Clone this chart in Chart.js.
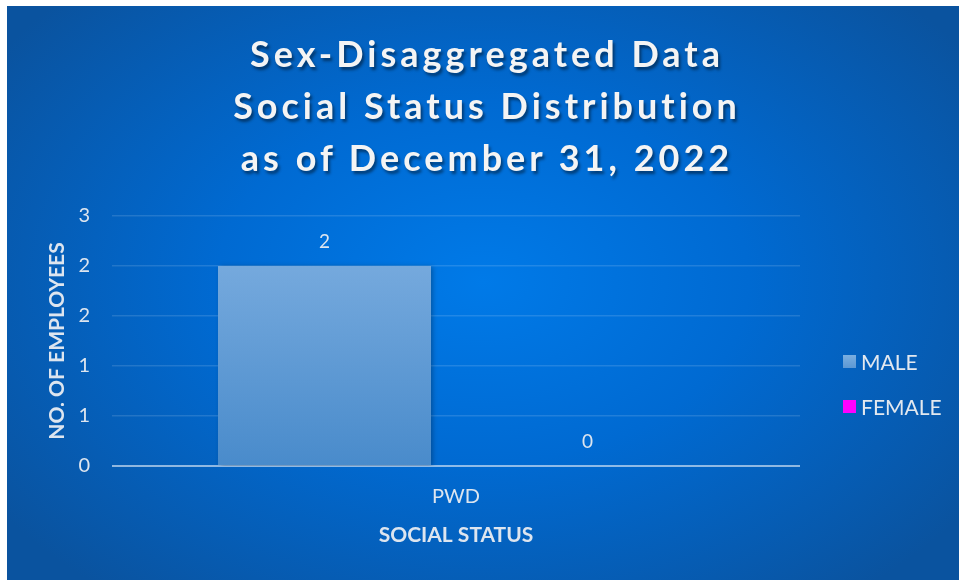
<!DOCTYPE html>
<html>
<head>
<meta charset="utf-8">
<script src="https://cdn.jsdelivr.net/npm/chart.js@4.4.1/dist/chart.umd.min.js"></script>
<style>
  html, body { margin: 0; padding: 0; background: #ffffff; }
  body { width: 959px; height: 580px; position: relative; overflow: hidden; font-family: 'Lato', sans-serif; }
  #panel {
    position: absolute; left: 7px; top: 6px; width: 952px; height: 574px;
    background: radial-gradient(ellipse 62% 70% at 50% 48%, #007ae8 0%, #006ad2 45%, #0a539f 100%);
  }
  #title {
    position: absolute; left: 4px; top: 21px; width: 952px; text-align: center;
    color: #f4f4f4; font-weight: 700; font-size: 36px; line-height: 52px; letter-spacing: 4px;
    text-shadow: 2px 3px 3px rgba(0, 0, 0, 0.45);
  }
  #legend { position: absolute; left: 836px; top: 343px; }
  .item { display: flex; align-items: center; height: 24px; margin-bottom: 21px; color: #e2e8ef; font-size: 21px; }
  .swatch { width: 13px; height: 13px; margin-right: 5px; }
  #wrap { position: absolute; left: 0; top: 0; width: 952px; height: 574px; }
</style>
</head>
<body>
<div id="panel">
  <div id="wrap"><canvas id="myChart"></canvas></div>
  <div id="title"></div>
  <div id="legend"></div>
</div>
<script>
const titleLines = ['Sex-Disaggregated Data', 'Social Status Distribution', 'as of December 31, 2022'];
const categories = ['PWD'];
const seriesNames = ['MALE', 'FEMALE'];
const maleValues = [2];
const femaleValues = [0];
const legendColors = ['#6fa6dd', '#ff00ff'];
const yAxisTitle = 'NO. OF EMPLOYEES';
const xAxisTitle = 'SOCIAL STATUS';

const textColor = '#dde5ef';
Chart.defaults.font.family = 'Lato';

document.getElementById('title').innerHTML = titleLines.join('<br>');

function maleFill(context) {
    const chart = context.chart;
    const area = chart.chartArea;
    if (!area) {
        return legendColors[0];
    }
    const grad = chart.ctx.createLinearGradient(0, area.top + 50, 0, area.bottom);
    grad.addColorStop(0, '#75a9dd');
    grad.addColorStop(1, '#498bcb');
    return grad;
}

const barExtras = {
    id: 'barExtras',
    beforeDatasetsDraw(chart) {
        const ctx = chart.ctx;
        ctx.save();
        ctx.shadowColor = 'rgba(0, 0, 0, 0.3)';
        ctx.shadowBlur = 5;
        ctx.shadowOffsetX = 2;
        ctx.shadowOffsetY = 1;
    },
    afterDatasetsDraw(chart) {
        const ctx = chart.ctx;
        ctx.restore();
        ctx.save();
        ctx.fillStyle = textColor;
        ctx.font = '19px Lato';
        ctx.textAlign = 'center';
        ctx.textBaseline = 'middle';
        chart.data.datasets.forEach((ds, i) => {
            chart.getDatasetMeta(i).data.forEach((bar, j) => {
                ctx.fillText(String(ds.data[j]), bar.x, bar.y - 24);
            });
        });
        ctx.restore();
    }
};

const ctx = document.getElementById('myChart').getContext('2d');
const myChart = new Chart(ctx, {
    type: 'bar',
    data: {
        labels: categories,
        datasets: [{
            label: seriesNames[0],
            data: maleValues,
            backgroundColor: maleFill,
            categoryPercentage: 0.7645,
            barPercentage: 0.81
        }, {
            label: seriesNames[1],
            data: femaleValues,
            backgroundColor: legendColors[1],
            categoryPercentage: 0.7645,
            barPercentage: 0.81
        }]
    },
    options: {
        responsive: true,
        maintainAspectRatio: false,
        animation: false,
        layout: {
            padding: { top: 210, right: 159, bottom: 0, left: 0 }
        },
        plugins: {
            legend: { display: false },
            title: { display: false },
            tooltip: { enabled: false }
        },
        scales: {
            x: {
                afterFit: (scale) => { scale.height = 114; },
                grid: { display: false, drawTicks: false },
                border: { display: false },
                ticks: { color: textColor, font: { size: 20 }, padding: 19 },
                title: {
                    display: true,
                    text: xAxisTitle,
                    color: textColor,
                    font: { size: 21, weight: 'bold' },
                    padding: { top: 0, bottom: 32 }
                }
            },
            y: {
                min: 0,
                max: 2.5,
                afterFit: (scale) => { scale.width = 105; },
                grid: {
                    drawTicks: false,
                    lineWidth: (c) => c.tick && c.tick.value === 0 ? 2 : 1.5,
                    color: (c) => c.tick && c.tick.value === 0 ? 'rgba(220, 232, 246, 0.65)' : 'rgba(255, 255, 255, 0.13)'
                },
                border: { display: false },
                ticks: {
                    stepSize: 0.5,
                    color: textColor,
                    font: { size: 20 },
                    padding: 22,
                    callback: (value) => Math.round(value)
                },
                title: {
                    display: true,
                    text: yAxisTitle,
                    color: textColor,
                    font: { size: 21, weight: 'bold' },
                    padding: { top: 38, bottom: 0 }
                }
            }
        }
    },
    plugins: [barExtras]
});

// html legend built from the chart's datasets
const legendBox = document.getElementById('legend');
myChart.data.datasets.forEach((ds, i) => {
    const item = document.createElement('div');
    item.className = 'item';
    const swatch = document.createElement('span');
    swatch.className = 'swatch';
    swatch.style.background = i === 0 ? 'linear-gradient(#7aaee0, #5c98d4)' : legendColors[i];
    const label = document.createElement('span');
    label.textContent = ds.label;
    item.appendChild(swatch);
    item.appendChild(label);
    legendBox.appendChild(item);
});
</script>
</body>
</html>
